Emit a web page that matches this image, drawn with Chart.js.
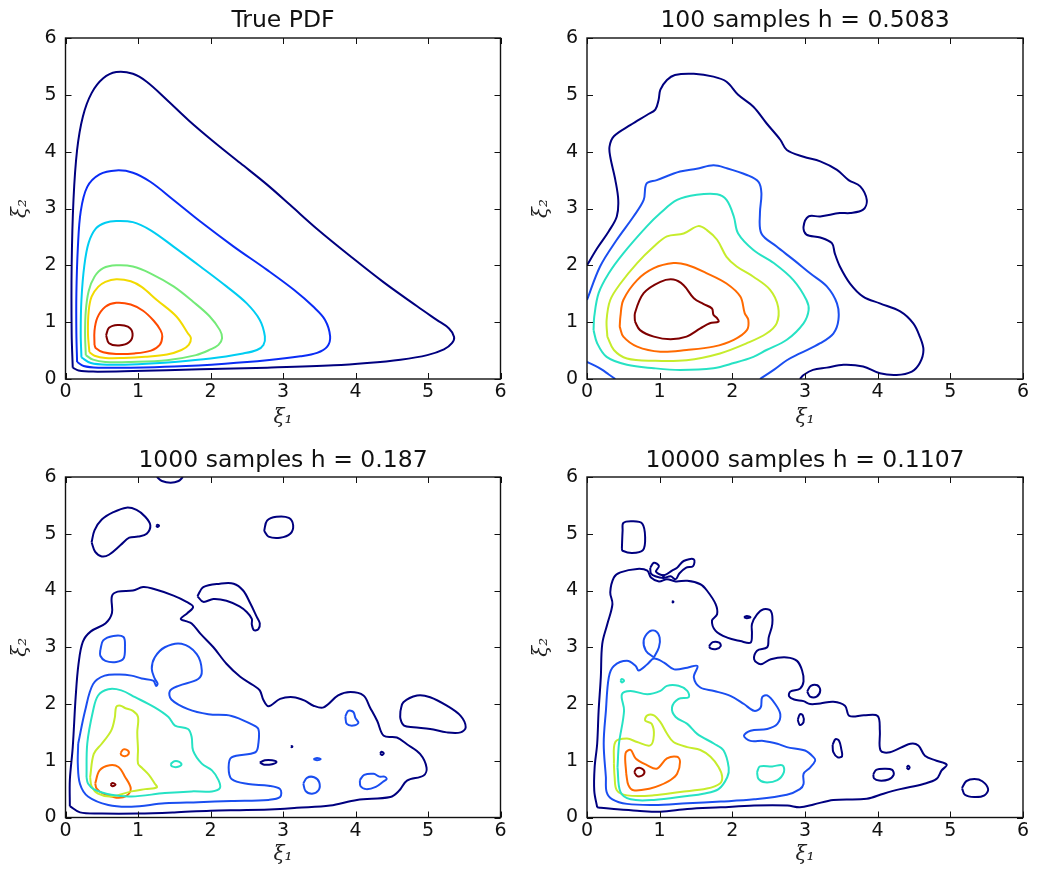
<!DOCTYPE html>
<html>
<head>
<meta charset="utf-8">
<script src="https://cdn.jsdelivr.net/npm/chart.js@4"></script>
<style>
  html, body { margin: 0; padding: 0; background: #fff; }
  #wrap { position: relative; width: 1042px; height: 873px; overflow: hidden; }
  canvas { position: absolute; }
</style>
</head>
<body>
<div id="wrap">
  <canvas id="c0" width="521" height="436" style="left:0;top:0"></canvas>
  <canvas id="c1" width="521" height="436" style="left:521px;top:0"></canvas>
  <canvas id="c2" width="521" height="436" style="left:0;top:437px"></canvas>
  <canvas id="c3" width="521" height="436" style="left:521px;top:437px"></canvas>
</div>
<script>
// panel titles
const titles = ['True PDF', '100 samples h = 0.5083', '1000 samples h = 0.187', '10000 samples h = 0.1107'];

// axis range / ticks (same for every panel)
const axisMin = 0;
const axisMax = 6;
const axisStep = 1;

// contour colours (jet), 7 levels for the true pdf, 6 for the kde plots
const jet7 = ['#00007f', '#0a2cf5', '#00cdf2', '#74ea78', '#f2da00', '#ff4a00', '#7f0000'];
const jet6 = ['#00007f', '#1a4ef0', '#26e2c4', '#c6ec2c', '#ff6a00', '#7f0000'];

// contour lines: lvl = level index, pts = [xi1, xi2]
const truePdf = [
  { lvl: 0, pts: [[0.1,0.2],[0.085,0.8],[0.085,2.0],[0.11,3.15],[0.16,4.03],[0.24,4.62],[0.36,5.03],[0.52,5.29],[0.7,5.4],[0.93,5.37],[1.12,5.23],[1.4,4.91],[1.7,4.55],[2.04,4.18],[2.41,3.8],[2.78,3.42],[3.1,3.06],[3.47,2.64],[3.93,2.16],[4.39,1.7],[4.85,1.28],[5.12,1.04],[5.29,0.89],[5.36,0.74],[5.33,0.63],[5.22,0.52],[4.99,0.42],[4.62,0.34],[4.16,0.28],[3.7,0.24],[2.78,0.2],[1.86,0.17],[0.93,0.14],[0.38,0.13],[0.18,0.15],[0.1,0.2]] },
  { lvl: 1, pts: [[0.16,0.3],[0.15,0.8],[0.15,1.5],[0.17,2.3],[0.21,2.95],[0.3,3.38],[0.47,3.6],[0.7,3.67],[0.93,3.63],[1.17,3.47],[1.49,3.15],[1.86,2.77],[2.32,2.33],[2.78,1.92],[3.15,1.57],[3.42,1.27],[3.58,1.04],[3.65,0.75],[3.61,0.57],[3.47,0.46],[3.24,0.4],[2.78,0.33],[2.2,0.27],[1.5,0.22],[0.9,0.2],[0.45,0.2],[0.25,0.23],[0.16,0.3]] },
  { lvl: 2, pts: [[0.22,0.38],[0.21,0.8],[0.22,1.4],[0.26,2.0],[0.32,2.4],[0.42,2.65],[0.55,2.75],[0.7,2.78],[0.93,2.76],[1.17,2.62],[1.49,2.33],[1.86,1.98],[2.22,1.63],[2.5,1.33],[2.68,1.04],[2.75,0.75],[2.73,0.6],[2.64,0.51],[2.45,0.45],[2.0,0.36],[1.5,0.3],[1.0,0.26],[0.6,0.25],[0.35,0.28],[0.22,0.38]] },
  { lvl: 3, pts: [[0.28,0.42],[0.27,0.8],[0.28,1.2],[0.32,1.55],[0.4,1.8],[0.52,1.95],[0.7,2.0],[0.93,1.98],[1.17,1.86],[1.49,1.63],[1.76,1.36],[1.99,1.1],[2.13,0.86],[2.16,0.72],[2.11,0.6],[2.0,0.52],[1.8,0.42],[1.4,0.33],[0.9,0.3],[0.55,0.3],[0.38,0.34],[0.28,0.42]] },
  { lvl: 4, pts: [[0.33,0.47],[0.31,0.8],[0.32,1.2],[0.36,1.45],[0.45,1.62],[0.55,1.71],[0.7,1.755],[0.9,1.72],[1.05,1.62],[1.26,1.39],[1.53,1.1],[1.69,0.8],[1.73,0.72],[1.7,0.6],[1.6,0.51],[1.4,0.43],[1.1,0.39],[0.8,0.37],[0.55,0.37],[0.4,0.41],[0.33,0.47]] },
  { lvl: 5, pts: [[0.4,0.6],[0.4,0.85],[0.44,1.08],[0.55,1.27],[0.7,1.34],[0.9,1.31],[1.07,1.2],[1.22,1.02],[1.31,0.86],[1.335,0.75],[1.3,0.6],[1.18,0.5],[0.95,0.45],[0.7,0.44],[0.52,0.47],[0.42,0.54],[0.4,0.6]] },
  { lvl: 6, pts: [[0.56,0.77],[0.6,0.9],[0.72,0.95],[0.86,0.92],[0.925,0.8],[0.88,0.65],[0.74,0.59],[0.6,0.63],[0.56,0.77]] }
];

const kde100 = [
  { lvl: 0, pts: [[0,2.0],[0.14,2.3],[0.3,2.6],[0.41,2.86],[0.43,3.15],[0.39,3.5],[0.32,3.91],[0.31,4.09],[0.37,4.27],[0.6,4.47],[0.83,4.65],[0.94,4.74],[0.985,4.91],[1.01,5.09],[1.1,5.26],[1.21,5.35],[1.47,5.37],[1.74,5.32],[1.92,5.23],[2.08,5.0],[2.29,4.79],[2.47,4.5],[2.66,4.21],[2.75,4.03],[2.98,3.91],[3.21,3.83],[3.44,3.68],[3.6,3.5],[3.76,3.39],[3.85,3.15],[3.8,2.98],[3.62,2.92],[3.48,2.92],[3.21,2.86],[3.05,2.86],[2.98,2.68],[3.02,2.54],[3.21,2.49],[3.37,2.39],[3.41,2.21],[3.48,1.98],[3.62,1.68],[3.8,1.45],[4.03,1.33],[4.31,1.19],[4.49,0.98],[4.58,0.745],[4.63,0.51],[4.58,0.28],[4.47,0.13],[4.26,0.07],[4.03,0.1],[3.8,0.22],[3.53,0.25],[3.3,0.2],[3.11,0.16],[2.98,0.07],[2.93,0]] },
  { lvl: 1, pts: [[0,1.39],[0.18,1.98],[0.41,2.45],[0.64,2.86],[0.78,3.15],[0.82,3.44],[0.96,3.5],[1.28,3.65],[1.51,3.7],[1.74,3.76],[1.92,3.71],[2.2,3.59],[2.36,3.47],[2.4,3.27],[2.38,2.92],[2.4,2.56],[2.61,2.33],[2.84,2.1],[3.07,1.86],[3.3,1.63],[3.44,1.33],[3.46,1.04],[3.39,0.8],[3.21,0.63],[2.93,0.45],[2.75,0.33],[2.57,0.16],[2.38,0]] },
  { lvl: 1, pts: [[0,0.3],[0.1,0.24],[0.2,0.17],[0.3,0.08],[0.39,0]] },
  { lvl: 2, pts: [[0.09,0.86],[0.1,1.1],[0.16,1.51],[0.3,1.86],[0.5,2.21],[0.82,2.68],[1.01,2.92],[1.24,3.15],[1.51,3.24],[1.79,3.25],[1.92,3.15],[2.02,2.86],[2.08,2.56],[2.29,2.27],[2.57,2.04],[2.84,1.74],[3.02,1.39],[3.05,1.21],[2.98,0.98],[2.75,0.69],[2.47,0.51],[2.29,0.39],[2.02,0.28],[1.74,0.19],[1.28,0.16],[0.92,0.19],[0.55,0.25],[0.27,0.39],[0.14,0.63],[0.09,0.86]] },
  { lvl: 3, pts: [[0.28,0.745],[0.27,1.04],[0.32,1.39],[0.46,1.68],[0.69,2.04],[0.92,2.33],[1.1,2.51],[1.33,2.56],[1.53,2.69],[1.65,2.62],[1.79,2.45],[1.92,2.15],[2.06,1.98],[2.29,1.8],[2.52,1.57],[2.63,1.27],[2.61,0.98],[2.47,0.8],[2.2,0.63],[1.83,0.45],[1.37,0.33],[0.92,0.32],[0.55,0.36],[0.37,0.51],[0.28,0.745]] },
  { lvl: 4, pts: [[0.45,0.92],[0.46,1.1],[0.5,1.39],[0.69,1.74],[0.92,1.95],[1.19,2.04],[1.37,2.01],[1.65,1.86],[1.92,1.68],[2.11,1.45],[2.17,1.16],[2.22,1.04],[2.2,0.86],[2.02,0.69],[1.74,0.57],[1.37,0.51],[1.01,0.48],[0.69,0.57],[0.5,0.745],[0.45,0.92]] },
  { lvl: 5, pts: [[0.66,1.01],[0.66,1.16],[0.78,1.51],[1.01,1.71],[1.19,1.75],[1.33,1.65],[1.47,1.42],[1.6,1.32],[1.72,1.24],[1.74,1.13],[1.79,1.07],[1.81,1.01],[1.69,0.98],[1.56,0.89],[1.37,0.745],[1.15,0.7],[0.92,0.745],[0.73,0.86],[0.66,1.01]] }
];

const kde1000 = [
  { lvl: 0, pts: [[1.26,6.0],[1.33,5.93],[1.45,5.9],[1.56,5.93],[1.62,6.0]] },
  { lvl: 0, pts: [[0.36,4.85],[0.4,5.06],[0.5,5.25],[0.66,5.38],[0.84,5.46],[0.98,5.42],[1.1,5.3],[1.17,5.15],[1.12,5.0],[1.0,4.95],[0.88,4.93],[0.76,4.8],[0.6,4.63],[0.5,4.6],[0.41,4.68],[0.36,4.85]] },
  { lvl: 0, pts: [[1.25,5.14],[1.27,5.16],[1.29,5.14],[1.27,5.12],[1.25,5.14]] },
  { lvl: 0, pts: [[2.74,5.05],[2.78,5.23],[2.91,5.3],[3.08,5.28],[3.14,5.15],[3.1,5.0],[2.96,4.93],[2.8,4.95],[2.74,5.05]] },
  { lvl: 0, pts: [[1.82,3.9],[1.9,4.06],[2.13,4.12],[2.32,4.12],[2.45,4.0],[2.55,3.77],[2.64,3.53],[2.68,3.42],[2.66,3.32],[2.6,3.3],[2.57,3.4],[2.57,3.5],[2.5,3.62],[2.4,3.72],[2.22,3.82],[2.04,3.85],[1.9,3.8],[1.82,3.9]] },
  { lvl: 0, pts: [[0.06,0.2],[0.06,0.66],[0.1,1.24],[0.14,2.12],[0.18,2.71],[0.24,3.1],[0.35,3.28],[0.55,3.42],[0.64,3.6],[0.64,3.9],[0.72,3.98],[0.93,4.0],[1.07,4.06],[1.21,4.03],[1.49,3.91],[1.67,3.8],[1.76,3.71],[1.68,3.6],[1.59,3.5],[1.66,3.46],[1.74,3.42],[1.86,3.24],[2.04,3.0],[2.22,2.71],[2.41,2.48],[2.59,2.33],[2.68,2.24],[2.73,2.07],[2.8,1.96],[2.96,2.09],[3.14,2.12],[3.3,2.06],[3.42,1.97],[3.56,1.94],[3.76,2.15],[3.93,2.21],[4.11,2.15],[4.2,1.94],[4.3,1.7],[4.39,1.44],[4.57,1.41],[4.71,1.29],[4.89,1.12],[4.98,0.88],[4.94,0.74],[4.71,0.65],[4.6,0.47],[4.48,0.36],[4.02,0.31],[3.65,0.21],[3.19,0.17],[2.96,0.15],[2.5,0.13],[2.0,0.12],[1.5,0.09],[1.0,0.07],[0.5,0.07],[0.2,0.09],[0.06,0.2]] },
  { lvl: 0, pts: [[4.62,1.88],[4.66,2.03],[4.85,2.15],[5.03,2.12],[5.26,1.97],[5.45,1.79],[5.52,1.59],[5.45,1.5],[5.26,1.5],[5.03,1.56],[4.8,1.59],[4.67,1.62],[4.62,1.74],[4.62,1.88]] },
  { lvl: 0, pts: [[4.34,1.13],[4.36,1.16],[4.39,1.13],[4.36,1.1],[4.34,1.13]] },
  { lvl: 0, pts: [[3.11,1.25],[3.12,1.26],[3.13,1.25],[3.12,1.24],[3.11,1.25]] },
  { lvl: 0, pts: [[2.68,0.97],[2.75,1.01],[2.85,1.01],[2.91,0.98],[2.85,0.94],[2.74,0.93],[2.68,0.97]] },
  { lvl: 1, pts: [[0.48,2.95],[0.52,3.12],[0.66,3.2],[0.8,3.18],[0.82,3.0],[0.8,2.8],[0.7,2.74],[0.55,2.76],[0.48,2.85],[0.48,2.95]] },
  { lvl: 1, pts: [[0.175,1.3],[0.27,1.88],[0.38,2.35],[0.54,2.5],[0.75,2.52],[0.91,2.5],[1.05,2.45],[1.21,2.41],[1.25,2.32],[1.27,2.36],[1.23,2.45],[1.19,2.62],[1.23,2.82],[1.37,3.0],[1.6,3.06],[1.81,2.88],[1.88,2.59],[1.83,2.44],[1.56,2.32],[1.44,2.23],[1.46,2.08],[1.69,1.91],[1.97,1.82],[2.29,1.79],[2.57,1.64],[2.66,1.56],[2.66,1.3],[2.62,1.15],[2.29,1.06],[2.25,0.88],[2.29,0.68],[2.52,0.59],[2.8,0.56],[2.96,0.5],[2.96,0.36],[2.8,0.31],[2.29,0.29],[1.83,0.27],[1.37,0.25],[0.91,0.19],[0.59,0.22],[0.31,0.37],[0.2,0.59],[0.17,0.94],[0.175,1.3]] },
  { lvl: 1, pts: [[3.42,1.03],[3.47,1.05],[3.52,1.03],[3.47,1.01],[3.42,1.03]] },
  { lvl: 1, pts: [[3.28,0.6],[3.33,0.7],[3.43,0.71],[3.5,0.62],[3.49,0.48],[3.4,0.42],[3.31,0.47],[3.28,0.6]] },
  { lvl: 1, pts: [[3.86,1.78],[3.9,1.88],[3.97,1.86],[4.0,1.75],[4.04,1.67],[3.97,1.62],[3.88,1.65],[3.86,1.78]] },
  { lvl: 1, pts: [[4.06,0.66],[4.12,0.75],[4.25,0.77],[4.33,0.72],[4.4,0.72],[4.43,0.68],[4.38,0.63],[4.28,0.54],[4.15,0.5],[4.07,0.55],[4.06,0.66]] },
  { lvl: 2, pts: [[0.29,0.71],[0.3,1.3],[0.38,1.88],[0.45,2.15],[0.59,2.26],[0.77,2.24],[0.96,2.12],[1.23,1.94],[1.42,1.77],[1.51,1.62],[1.69,1.56],[1.74,1.42],[1.76,1.18],[1.88,0.95],[2.02,0.83],[2.11,0.66],[2.13,0.52],[2.02,0.46],[1.74,0.46],[1.37,0.43],[0.91,0.37],[0.63,0.4],[0.4,0.49],[0.31,0.6],[0.29,0.71]] },
  { lvl: 2, pts: [[1.45,0.94],[1.5,0.99],[1.57,0.98],[1.6,0.93],[1.54,0.89],[1.47,0.9],[1.45,0.94]] },
  { lvl: 3, pts: [[0.34,0.71],[0.39,1.12],[0.5,1.3],[0.63,1.53],[0.68,1.76],[0.7,1.95],[0.76,1.97],[0.82,1.93],[0.93,1.88],[1.0,1.77],[0.99,1.5],[1.0,1.2],[1.0,0.95],[1.05,0.88],[1.15,0.75],[1.23,0.6],[1.26,0.53],[1.1,0.5],[0.91,0.46],[0.63,0.37],[0.45,0.42],[0.36,0.55],[0.34,0.71]] },
  { lvl: 4, pts: [[0.41,0.6],[0.47,0.83],[0.61,0.92],[0.73,0.89],[0.82,0.72],[0.9,0.51],[0.84,0.38],[0.7,0.35],[0.52,0.42],[0.43,0.51],[0.41,0.6]] },
  { lvl: 4, pts: [[0.76,1.14],[0.8,1.2],[0.86,1.18],[0.87,1.12],[0.82,1.08],[0.77,1.1],[0.76,1.14]] },
  { lvl: 5, pts: [[0.62,0.58],[0.65,0.61],[0.69,0.58],[0.65,0.55],[0.62,0.58]] }
];

const kde10000 = [
  { lvl: 0, pts: [[0.48,4.74],[0.49,5.06],[0.5,5.19],[0.62,5.22],[0.76,5.18],[0.8,4.94],[0.77,4.71],[0.62,4.66],[0.49,4.7],[0.48,4.74]] },
  { lvl: 0, pts: [[0.14,0.18],[0.1,0.47],[0.105,0.88],[0.14,1.3],[0.16,1.88],[0.19,2.47],[0.21,3.06],[0.28,3.41],[0.35,3.76],[0.32,3.97],[0.37,4.23],[0.46,4.32],[0.69,4.38],[0.83,4.35],[0.88,4.23],[0.99,4.16],[1.1,4.2],[1.22,4.16],[1.38,4.17],[1.56,4.11],[1.65,4.0],[1.77,3.76],[1.79,3.58],[1.72,3.47],[1.77,3.29],[1.93,3.17],[2.11,3.11],[2.25,3.08],[2.27,3.23],[2.27,3.41],[2.34,3.58],[2.43,3.67],[2.53,3.64],[2.55,3.41],[2.5,3.17],[2.48,3.0],[2.34,2.94],[2.3,2.79],[2.39,2.7],[2.53,2.79],[2.75,2.82],[2.89,2.76],[2.96,2.59],[2.98,2.4],[2.93,2.27],[2.8,2.22],[2.78,2.14],[2.85,2.08],[2.98,2.05],[3.07,2.0],[3.21,2.01],[3.39,2.04],[3.55,1.97],[3.61,1.79],[3.81,1.8],[4.0,1.79],[4.03,1.53],[4.04,1.18],[4.17,1.15],[4.45,1.3],[4.56,1.27],[4.65,1.09],[4.81,1.0],[4.95,0.93],[4.88,0.83],[4.81,0.68],[4.63,0.59],[4.31,0.5],[4.08,0.42],[3.85,0.33],[3.39,0.31],[3.12,0.23],[2.93,0.18],[2.76,0.21],[2.3,0.21],[1.84,0.18],[1.38,0.15],[1.01,0.1],[0.69,0.12],[0.37,0.15],[0.19,0.17],[0.14,0.18]] },
  { lvl: 0, pts: [[0.87,4.4],[0.92,4.49],[0.99,4.43],[0.95,4.33],[1.06,4.27],[1.17,4.35],[1.24,4.4],[1.33,4.52],[1.47,4.55],[1.46,4.43],[1.36,4.4],[1.27,4.3],[1.22,4.2],[1.15,4.25],[1.05,4.22],[0.94,4.25],[0.88,4.3],[0.87,4.4]] },
  { lvl: 0, pts: [[1.04,4.26],[1.05,4.27],[1.06,4.26],[1.05,4.25],[1.04,4.26]] },
  { lvl: 0, pts: [[1.17,3.8],[1.18,3.81],[1.19,3.8],[1.18,3.79],[1.17,3.8]] },
  { lvl: 0, pts: [[2.16,3.53],[2.2,3.55],[2.25,3.53],[2.2,3.51],[2.16,3.53]] },
  { lvl: 0, pts: [[1.68,3.02],[1.73,3.09],[1.82,3.08],[1.84,3.02],[1.78,2.97],[1.7,2.98],[1.68,3.02]] },
  { lvl: 0, pts: [[3.38,1.28],[3.42,1.38],[3.47,1.35],[3.5,1.2],[3.51,1.08],[3.45,1.06],[3.39,1.15],[3.38,1.28]] },
  { lvl: 0, pts: [[2.9,1.72],[2.93,1.82],[2.97,1.8],[2.98,1.68],[2.93,1.63],[2.9,1.72]] },
  { lvl: 0, pts: [[3.03,2.22],[3.08,2.32],[3.17,2.33],[3.21,2.24],[3.16,2.13],[3.07,2.13],[3.03,2.22]] },
  { lvl: 0, pts: [[3.94,0.76],[3.98,0.84],[4.1,0.86],[4.2,0.84],[4.22,0.75],[4.15,0.67],[4.02,0.65],[3.95,0.69],[3.94,0.76]] },
  { lvl: 0, pts: [[4.4,0.88],[4.42,0.91],[4.44,0.88],[4.42,0.85],[4.4,0.88]] },
  { lvl: 0, pts: [[5.16,0.52],[5.22,0.64],[5.33,0.68],[5.44,0.64],[5.52,0.5],[5.47,0.39],[5.33,0.36],[5.2,0.4],[5.16,0.52]] },
  { lvl: 1, pts: [[0.26,0.71],[0.23,1.3],[0.26,1.88],[0.3,2.47],[0.37,2.67],[0.55,2.76],[0.67,2.67],[0.71,2.59],[0.83,2.7],[0.92,2.8],[1.06,2.73],[1.2,2.61],[1.38,2.64],[1.52,2.67],[1.47,2.47],[1.56,2.29],[1.75,2.23],[1.98,2.14],[2.16,2.0],[2.3,1.88],[2.39,1.94],[2.41,2.12],[2.48,2.15],[2.59,2.0],[2.66,1.82],[2.62,1.65],[2.48,1.56],[2.25,1.53],[2.16,1.44],[2.25,1.35],[2.43,1.35],[2.62,1.3],[2.75,1.24],[3.0,1.18],[3.12,1.06],[3.14,1.0],[3.07,0.88],[2.98,0.77],[2.98,0.59],[2.93,0.5],[2.75,0.4],[2.3,0.32],[1.84,0.28],[1.38,0.25],[0.92,0.22],[0.55,0.24],[0.35,0.32],[0.27,0.45],[0.26,0.71]] },
  { lvl: 1, pts: [[0.92,2.82],[0.81,2.94],[0.78,3.12],[0.85,3.27],[0.94,3.29],[1.0,3.17],[0.99,3.0],[0.92,2.82]] },
  { lvl: 2, pts: [[0.42,0.88],[0.44,1.3],[0.51,1.88],[0.48,2.17],[0.6,2.23],[0.83,2.17],[1.01,2.23],[1.1,2.32],[1.26,2.32],[1.38,2.23],[1.4,2.12],[1.26,2.09],[1.17,1.94],[1.22,1.77],[1.38,1.65],[1.52,1.47],[1.75,1.3],[1.88,1.18],[1.95,0.88],[1.93,0.71],[1.81,0.5],[1.6,0.42],[1.38,0.38],[0.92,0.31],[0.6,0.32],[0.46,0.45],[0.42,0.88]] },
  { lvl: 2, pts: [[2.34,0.8],[2.38,0.9],[2.55,0.9],[2.69,0.92],[2.71,0.8],[2.62,0.66],[2.45,0.62],[2.36,0.68],[2.34,0.8]] },
  { lvl: 2, pts: [[0.46,2.41],[0.48,2.44],[0.51,2.41],[0.48,2.38],[0.46,2.41]] },
  { lvl: 3, pts: [[0.37,0.95],[0.39,1.33],[0.55,1.39],[0.69,1.33],[0.87,1.27],[0.92,1.45],[0.89,1.65],[0.8,1.71],[0.83,1.8],[0.92,1.8],[1.01,1.68],[1.1,1.48],[1.19,1.33],[1.38,1.24],[1.56,1.19],[1.7,1.07],[1.81,0.89],[1.86,0.72],[1.83,0.6],[1.65,0.51],[1.28,0.45],[0.92,0.39],[0.55,0.39],[0.41,0.48],[0.38,0.72],[0.37,0.95]] },
  { lvl: 4, pts: [[0.54,0.77],[0.53,1.13],[0.6,1.19],[0.67,1.04],[0.83,0.92],[0.96,0.86],[1.1,1.04],[1.24,1.07],[1.28,0.98],[1.24,0.77],[1.15,0.66],[1.01,0.57],[0.87,0.51],[0.64,0.48],[0.57,0.57],[0.54,0.77]] },
  { lvl: 5, pts: [[0.65,0.8],[0.68,0.86],[0.74,0.87],[0.79,0.81],[0.76,0.74],[0.69,0.73],[0.65,0.8]] }
];

// inward tick marks on all four sides + the box around the plot
const frameAndTicks = {
  id: 'frameAndTicks',
  afterDatasetsDraw(chart) {
    const { ctx, chartArea: a } = chart;
    const x = chart.scales.x;
    const y = chart.scales.y;
    ctx.save();
    ctx.strokeStyle = '#111';
    ctx.lineWidth = 1;
    ctx.beginPath();
    x.ticks.forEach(t => {
      const px = Math.round(x.getPixelForValue(t.value)) + 0.5;
      ctx.moveTo(px, a.bottom); ctx.lineTo(px, a.bottom - 6);
      ctx.moveTo(px, a.top); ctx.lineTo(px, a.top + 6);
    });
    y.ticks.forEach(t => {
      const py = Math.round(y.getPixelForValue(t.value)) + 0.5;
      ctx.moveTo(a.left, py); ctx.lineTo(a.left + 6, py);
      ctx.moveTo(a.right, py); ctx.lineTo(a.right - 6, py);
    });
    ctx.stroke();
    ctx.lineWidth = 1.4;
    ctx.strokeRect(a.left, a.top, a.right - a.left, a.bottom - a.top);
    ctx.restore();
  }
};

function makeDatasets(contours, colors) {
  return contours.map(c => ({
    data: c.pts.map(p => ({ x: p[0], y: p[1] })),
    borderColor: colors[c.lvl],
    borderWidth: 2,
    showLine: true,
    pointRadius: 0,
    pointHoverRadius: 0,
    tension: 0.35,
    fill: false
  }));
}

function makeChart(id, title, contours, colors, g) {
  const tickFont = { family: 'DejaVu Sans', size: 19 };
  const labelFont = { family: 'DejaVu Serif', size: 20, style: 'italic' };
  return new Chart(document.getElementById(id), {
    type: 'scatter',
    data: { datasets: makeDatasets(contours, colors) },
    options: {
      responsive: false,
      animation: false,
      events: [],
      layout: { padding: { left: 0, top: 0, right: g.padRight, bottom: 0 } },
      plugins: {
        legend: { display: false },
        tooltip: { enabled: false },
        title: {
          display: true,
          text: title,
          fullSize: false,
          color: '#111',
          font: { family: 'DejaVu Sans', size: 23.5, weight: 'normal' },
          padding: { top: g.titleTop, bottom: g.titleBottom }
        }
      },
      scales: {
        x: {
          type: 'linear',
          min: axisMin, max: axisMax,
          ticks: { stepSize: axisStep, padding: 2, color: '#111', font: tickFont },
          grid: { display: false, drawTicks: false },
          border: { display: false },
          title: { display: true, text: 'ξ₁', color: '#222', font: labelFont, padding: { top: 0, bottom: 6 } },
          afterFit(s) { s.height = g.xHeight; }
        },
        y: {
          type: 'linear',
          min: axisMin, max: axisMax,
          ticks: { stepSize: axisStep, padding: 9, color: '#111', font: tickFont },
          grid: { display: false, drawTicks: false },
          border: { display: false },
          title: { display: true, text: 'ξ₂', color: '#222', font: labelFont, padding: { top: 9, bottom: 0 } },
          afterFit(s) { s.width = g.yWidth; }
        }
      }
    },
    plugins: [frameAndTicks]
  });
}

const topGeom = { yWidth: 65.5, padRight: 20.5, titleTop: 6.5, titleBottom: 3.3, xHeight: 57 };
const topGeomR = { yWidth: 66, padRight: 19, titleTop: 6.5, titleBottom: 3.3, xHeight: 57 };
const botGeom = { yWidth: 65.5, padRight: 20.5, titleTop: 9.8, titleBottom: 2, xHeight: 55.5 };
const botGeomR = { yWidth: 66, padRight: 19, titleTop: 9.8, titleBottom: 2, xHeight: 55.5 };

makeChart('c0', titles[0], truePdf, jet7, topGeom);
makeChart('c1', titles[1], kde100, jet6, topGeomR);
makeChart('c2', titles[2], kde1000, jet6, botGeom);
makeChart('c3', titles[3], kde10000, jet6, botGeomR);
</script>
</body>
</html>
